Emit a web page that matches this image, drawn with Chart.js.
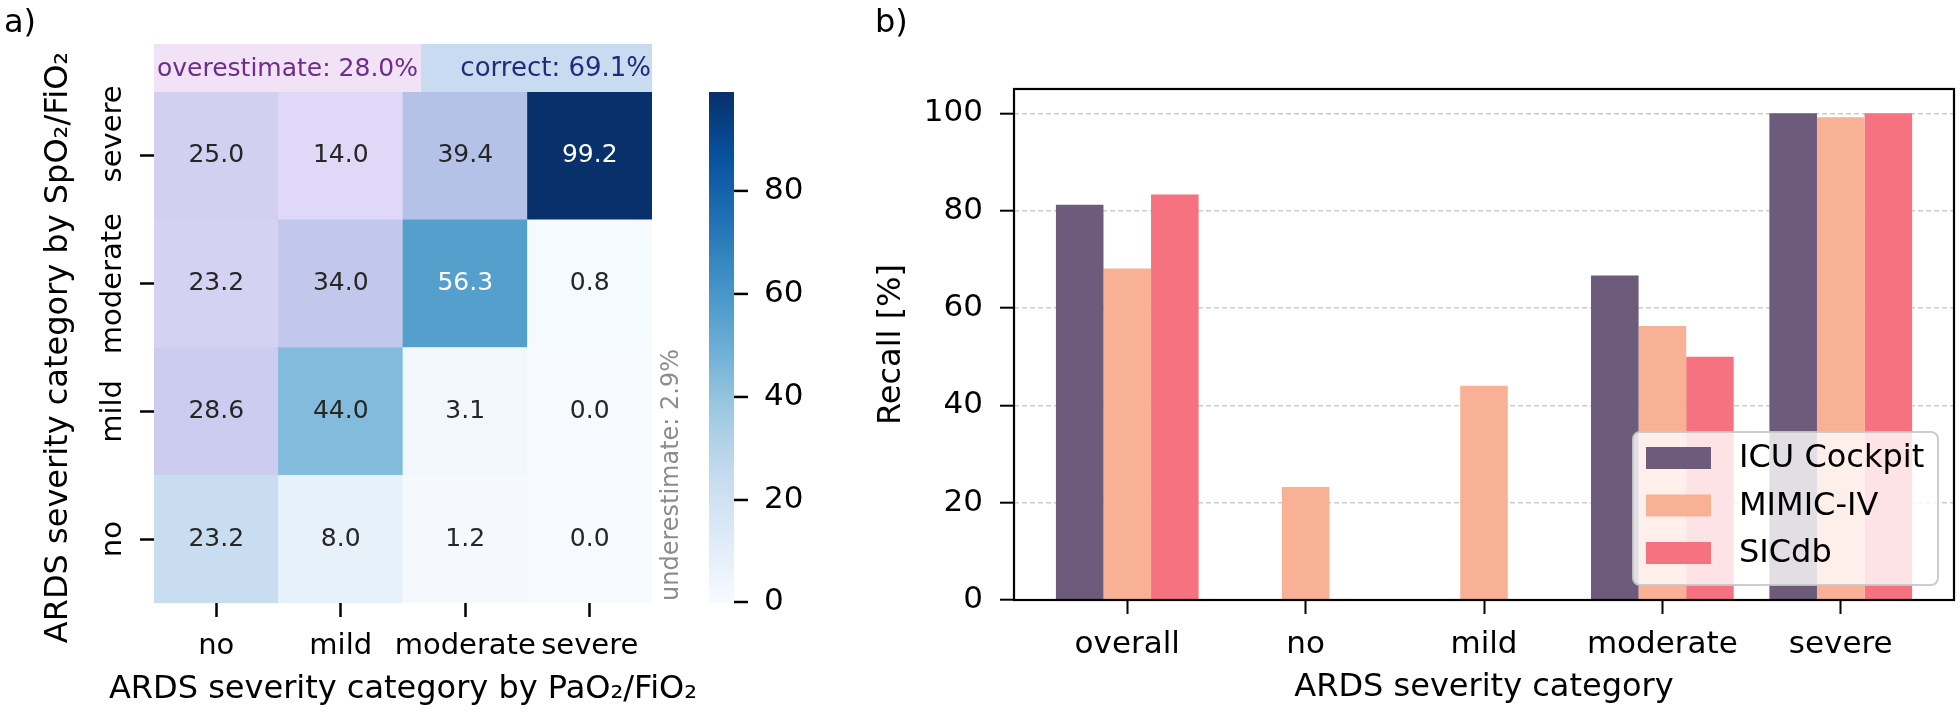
<!DOCTYPE html>
<html>
<head>
<meta charset="utf-8">
<script src="https://cdn.jsdelivr.net/npm/chart.js@4.4.1/dist/chart.umd.min.js"></script>
<style>
  html, body { margin: 0; padding: 0; background: #fff; }
  #wrap { position: relative; width: 1960px; height: 713px; overflow: hidden; }
  .box { position: absolute; top: 0; height: 713px; }
</style>
</head>
<body>
<div id="wrap">
  <div class="box" style="left:0; width:850px;"><canvas id="heat"></canvas></div>
  <div class="box" style="left:850px; width:1110px;"><canvas id="bars"></canvas></div>
</div>
<script>
'use strict';

// a) heatmap, rows = SpO2/FiO2 category (bottom to top), cols = PaO2/FiO2 category
var heatCols = ['no', 'mild', 'moderate', 'severe'];
var heatRowLabels = ['no', 'mild', 'moderate', 'severe'];
var rowNo       = [23.2,  8.0,  1.2,  0.0];
var rowMild     = [28.6, 44.0,  3.1,  0.0];
var rowModerate = [23.2, 34.0, 56.3,  0.8];
var rowSevere   = [25.0, 14.0, 39.4, 99.2];
var colorbarTicks = [0, 20, 40, 60, 80];
var colorbarMax = 99.2;
var overText = 'overestimate: 28.0%';
var correctText = 'correct: 69.1%';
var underText = 'underestimate: 2.9%';

// b) recall per ARDS category
var recallCats = ['overall', 'no', 'mild', 'moderate', 'severe'];
var icuCockpit = [81.2, 0, 0, 66.7, 100];
var mimicIV    = [68.1, 23.2, 44.0, 56.3, 99.2];
var sicdb      = [83.3, 0, 0, 50.0, 100];

var FONT = '"DejaVu Sans", "Liberation Sans", sans-serif';
Chart.defaults.font.family = FONT;
Chart.defaults.color = '#000';

var BLUES = ['#f7fbff', '#deebf7', '#c6dbef', '#9ecae1', '#6baed6', '#4292c6', '#2171b5', '#08519c', '#08306b'];
var OVER_TINT = [230, 190, 245];

function hexRgb(h){
    return [parseInt(h.slice(1, 3), 16), parseInt(h.slice(3, 5), 16), parseInt(h.slice(5, 7), 16)];
}
function blues(t){
    t = Math.max(0, Math.min(1, t));
    var p = t * 8, i = Math.min(7, Math.floor(p)), f = p - i;
    var a = hexRgb(BLUES[i]), b = hexRgb(BLUES[i + 1]);
    return [0, 1, 2].map(function(k){ return a[k] + (b[k] - a[k]) * f; });
}
function rgbStr(c){
    return 'rgb(' + c.map(Math.round).join(',') + ')';
}
function cellRgb(v, over){
    var c = blues(v / colorbarMax);
    if( over )
        c = c.map(function(x, k){ return x * 0.6 + OVER_TINT[k] * 0.4; });
    return c;
}
function luminance(c){
    var l = c.map(function(x){
        x = x / 255;
        return x <= 0.03928 ? x / 12.92 : Math.pow((x + 0.055) / 1.055, 2.4);
    });
    return 0.2126 * l[0] + 0.7152 * l[1] + 0.0722 * l[2];
}

var heatRows = [rowNo, rowMild, rowModerate, rowSevere];
var heatDatasets = heatRows.map(function(vals, i){
    var cols = vals.map(function(v, j){ return cellRgb(v, i > j); });
    return {
        label: heatRowLabels[i],
        data: vals.map(function(){ return [i, i + 1]; }),
        values: vals,
        backgroundColor: cols.map(rgbStr),
        textColors: cols.map(function(c){ return luminance(c) > 0.408 ? '#262626' : '#ffffff'; }),
        borderWidth: 0,
        barPercentage: 1,
        categoryPercentage: 1,
        grouped: false
    };
});

var heatDecor = {
    id: 'heatDecor',
    afterDatasetsDraw: function(chart){
        var ctx = chart.ctx, area = chart.chartArea;
        ctx.save();

        // cell values
        ctx.font = '25px ' + FONT;
        ctx.textAlign = 'center';
        ctx.textBaseline = 'middle';
        chart.data.datasets.forEach(function(ds, i){
            chart.getDatasetMeta(i).data.forEach(function(bar, j){
                ctx.fillStyle = ds.textColors[j];
                ctx.fillText(ds.values[j].toFixed(1), bar.x, (bar.y + bar.base) / 2);
            });
        });

        // rotated y tick labels (the top one sits a little higher in the original)
        var ys = chart.scales.y;
        ctx.font = '29px ' + FONT;
        ctx.fillStyle = '#000';
        ctx.textBaseline = 'alphabetic';
        ys.ticks.forEach(function(t, k){
            var y = ys.getPixelForValue(t.value);
            if( k === ys.ticks.length - 1 ) y -= 22;
            ctx.save();
            ctx.translate(121, y);
            ctx.rotate(-Math.PI / 2);
            ctx.fillText(heatRowLabels[k], 0, 0);
            ctx.restore();
        });

        // x title (drawn here so it is not squeezed to the axis width)
        ctx.font = '32px ' + FONT;
        ctx.textBaseline = 'middle';
        ctx.fillText('ARDS severity category by PaO\u2082/FiO\u2082', (area.left + area.right) / 2, 690);

        // summary band above the matrix
        ctx.font = '25px ' + FONT;
        var pad = 3;
        var w1 = ctx.measureText(overText).width;
        var bTop = area.top - 48;
        var split = area.left + w1 + 2 * pad;
        ctx.fillStyle = '#f1e2f6';
        ctx.fillRect(area.left, bTop, split - area.left, area.top - bTop);
        ctx.fillStyle = '#c9dbf0';
        ctx.fillRect(split, bTop, area.right - split, area.top - bTop);
        ctx.textBaseline = 'middle';
        ctx.textAlign = 'left';
        ctx.fillStyle = '#6e2c8c';
        ctx.fillText(overText, area.left + pad, bTop + 25);
        ctx.font = '26px ' + FONT;
        ctx.textAlign = 'right';
        ctx.fillStyle = '#1f2b7b';
        ctx.fillText(correctText, area.right - 1, bTop + 25);

        // underestimate note
        ctx.save();
        ctx.font = '24px ' + FONT;
        ctx.fillStyle = '#8c8c8c';
        ctx.translate(672, area.bottom - 2);
        ctx.rotate(-Math.PI / 2);
        ctx.textAlign = 'left';
        ctx.fillText(underText, 0, 0);
        ctx.restore();

        // colorbar
        var cb = chart.scales.yColor;
        var cbx = 709, cbw = 25;
        for( var py = Math.floor(area.top); py < area.bottom; py++ ){
            var v = cb.getValueForPixel(py + 0.5);
            ctx.fillStyle = rgbStr(blues(v / colorbarMax));
            ctx.fillRect(cbx, py, cbw, 1.2);
        }
        ctx.strokeStyle = '#000';
        ctx.lineWidth = 2.5;
        ctx.font = '31px ' + FONT;
        ctx.fillStyle = '#000';
        ctx.textAlign = 'left';
        colorbarTicks.forEach(function(t){
            var y = cb.getPixelForValue(t);
            if( t === 0 ) y -= 1;
            ctx.beginPath();
            ctx.moveTo(cbx + cbw, y);
            ctx.lineTo(cbx + cbw + 14, y);
            ctx.stroke();
            ctx.fillText(String(t), cbx + cbw + 30, y);
        });

        // panel letter
        ctx.font = '32px ' + FONT;
        ctx.fillText('a)', 4, 24);
        ctx.restore();
    }
};

new Chart(document.getElementById('heat'), {
    type: 'bar',
    data: { labels: heatCols, datasets: heatDatasets },
    options: {
        animation: false,
        responsive: true,
        maintainAspectRatio: false,
        layout: { padding: { left: 0, top: 92, right: 198, bottom: 0 } },
        plugins: { legend: { display: false }, tooltip: { enabled: false } },
        scales: {
            x: {
                type: 'category',
                offset: true,
                afterFit: function(s){ s.height = 110; },
                grid: { display: true, drawOnChartArea: false, offset: false, tickLength: 14, tickWidth: 2.5, tickColor: '#000' },
                border: { display: false },
                ticks: { font: { size: 29 }, color: '#000', padding: 12, maxRotation: 0, autoSkip: false }
            },
            y: {
                type: 'linear',
                min: 0,
                max: 4,
                afterFit: function(s){ s.width = 154; },
                afterBuildTicks: function(s){
                    s.ticks = heatRowLabels.map(function(r, i){ return { value: i + 0.5 }; });
                },
                grid: { display: true, drawOnChartArea: false, tickLength: 14, tickWidth: 2.5, tickColor: '#000' },
                border: { display: false },
                ticks: { display: false },
                title: {
                    display: true,
                    text: 'ARDS severity category by SpO\u2082/FiO\u2082',
                    font: { size: 32 },
                    color: '#000',
                    padding: { top: 39, bottom: 0 }
                }
            },
            yColor: {
                type: 'linear',
                axis: 'y',
                position: 'right',
                display: false,
                min: 0,
                max: colorbarMax
            }
        }
    },
    plugins: [heatDecor]
});

// ---- b) grouped bars ----
var seriesNames = ['ICU Cockpit', 'MIMIC-IV', 'SICdb'];
var seriesColors = ['#6c5b7b', '#f8b195', '#f67280'];
var seriesValues = [icuCockpit, mimicIV, sicdb];

var barDatasets = seriesValues.map(function(vals, k){
    return {
        label: seriesNames[k],
        data: vals.map(function(v, i){ return { x: i, y: v }; }),
        backgroundColor: seriesColors[k],
        borderWidth: 0
    };
});

var barDecor = {
    id: 'barDecor',
    afterDatasetsDraw: function(chart){
        var ctx = chart.ctx, area = chart.chartArea;
        ctx.save();
        // frame
        ctx.strokeStyle = '#000';
        ctx.lineWidth = 2.2;
        ctx.strokeRect(area.left, area.top, area.right - area.left, area.bottom - area.top);

        // legend in lower right corner
        var bw = 305, bh = 153;
        var bx = area.right - 16 - bw, by = area.bottom - 15 - bh;
        ctx.beginPath();
        if( ctx.roundRect )
            ctx.roundRect(bx, by, bw, bh, 7);
        else
            ctx.rect(bx, by, bw, bh);
        ctx.fillStyle = 'rgba(255,255,255,0.8)';
        ctx.fill();
        ctx.strokeStyle = 'rgba(200,200,200,0.9)';
        ctx.lineWidth = 2;
        ctx.stroke();
        ctx.font = '32px ' + FONT;
        ctx.textAlign = 'left';
        ctx.textBaseline = 'middle';
        chart.data.datasets.forEach(function(ds, k){
            var cy = by + 26 + k * 47.5;
            ctx.fillStyle = ds.backgroundColor;
            ctx.fillRect(bx + 13, cy - 11, 65, 22);
            ctx.fillStyle = '#000';
            ctx.fillText(ds.label, bx + 106, cy + 1);
        });

        ctx.fillText('b)', 25, 24);
        ctx.restore();
    }
};

new Chart(document.getElementById('bars'), {
    type: 'bar',
    data: { datasets: barDatasets },
    options: {
        animation: false,
        responsive: true,
        maintainAspectRatio: false,
        layout: { padding: { left: 0, top: 89, right: 6, bottom: 0 } },
        datasets: { bar: { categoryPercentage: 0.8, barPercentage: 1.0 } },
        plugins: { legend: { display: false }, tooltip: { enabled: false } },
        scales: {
            x: {
                type: 'linear',
                min: -0.635,
                max: 4.635,
                offset: false,
                afterFit: function(s){ s.height = 113; },
                afterBuildTicks: function(s){
                    s.ticks = recallCats.map(function(c, i){ return { value: i }; });
                },
                grid: { display: true, drawOnChartArea: false, offset: false, tickLength: 14, tickWidth: 2, tickColor: '#000' },
                border: { display: false },
                ticks: {
                    callback: function(v){ return recallCats[v]; },
                    font: { size: 31 }, color: '#000', padding: 12, maxRotation: 0, autoSkip: false
                },
                title: {
                    display: true,
                    text: 'ARDS severity category',
                    font: { size: 32 },
                    color: '#000',
                    padding: { top: 0, bottom: 6 }
                }
            },
            y: {
                min: 0,
                max: 105,
                afterFit: function(s){ s.width = 164; },
                grid: { color: '#cccccc', lineWidth: 1.4, tickLength: 14, tickWidth: 2, tickColor: '#000' },
                border: { display: false, dash: [5, 3] },
                ticks: { stepSize: 20, includeBounds: false, font: { size: 31 }, color: '#000', padding: 17 },
                title: {
                    display: true,
                    text: 'Recall [%]',
                    font: { size: 32 },
                    color: '#000',
                    padding: { top: 22, bottom: 0 }
                }
            }
        }
    },
    plugins: [barDecor]
});
</script>
</body>
</html>
